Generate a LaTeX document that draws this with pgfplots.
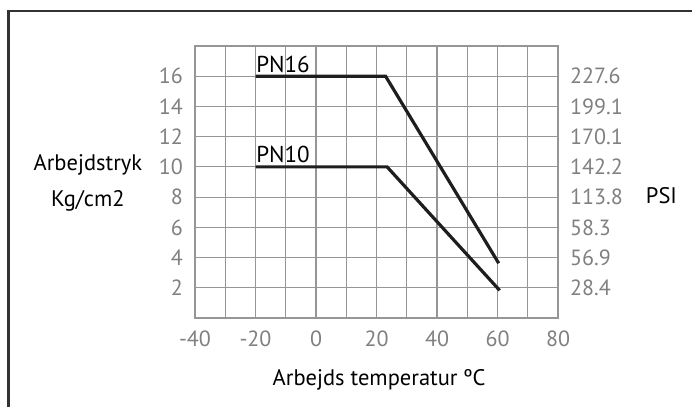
\documentclass[border=0pt]{standalone}
\usepackage{fontspec}
\setmainfont{PT Sans}
\usepackage{pgfplots}
\pgfplotsset{compat=1.18}
\definecolor{gridgray}{RGB}{150,150,150}
\definecolor{ticktext}{RGB}{128,128,128}
\definecolor{framecol}{RGB}{50,50,50}
\definecolor{linecol}{RGB}{30,30,30}
\pgfplotstableread{
x y
-20 16
23 16
60.4 3.62
}\pnsixteen
\pgfplotstableread{
x y
-20 10
23.5 10
60.7 1.83
}\pnten
\begin{document}
\begin{tikzpicture}
\path[use as bounding box] (0pt,0pt) rectangle (692pt,407pt);
\draw[framecol, line width=2.5pt] (8.3pt,0pt) -- (8.3pt,396pt) -- (692pt,396pt);
\begin{axis}[
  at={(195pt,89pt)}, anchor=south west, scale only axis,
  width=363pt, height=272pt,
  xmin=-40, xmax=80, ymin=0, ymax=18,
  xtick={-40,-30,...,80}, xticklabels={-40,,-20,,0,,20,,40,,60,,80},
  ytick={0,2,...,18}, yticklabels={,2,4,6,8,10,12,14,16,},
  grid=major, major grid style={gridgray, line width=1.2pt},
  axis line style={gridgray, line width=1.2pt},
  major tick length=0pt,
  tick label style={font=\fontsize{22}{26}\selectfont, text=ticktext, inner sep=0pt},
  xticklabel shift=13pt, yticklabel shift=12pt,
  label style={font=\fontsize{22.5}{27}\selectfont},
  xlabel={Arbejds temperatur ºC},
  xlabel style={at={(axis description cs:0.507,-0.228)}, anchor=center},
  ylabel={Arbejdstryk\\[9pt]Kg/cm2},
  ylabel style={at={(axis description cs:-0.295,0.496)}, anchor=center, rotate=-90, align=center},
  clip=false,
]
\addplot[linecol, line width=3.2pt] table[x=x,y=y] {\pnsixteen};
\addplot[linecol, line width=3.2pt] table[x=x,y=y] {\pnten};
\node[anchor=base west, inner sep=0pt, font=\fontsize{23}{27}\selectfont] at (axis cs:-19.8,16.27) {PN16};
\node[anchor=base west, inner sep=0pt, font=\fontsize{23}{27}\selectfont] at (axis cs:-19.8,10.27) {PN10};
\end{axis}
\begin{axis}[
  at={(195pt,89pt)}, anchor=south west, scale only axis,
  width=363pt, height=272pt,
  xmin=-40, xmax=80, ymin=0, ymax=18,
  hide x axis,
  axis y line*=right,
  axis line style={gridgray, line width=1.2pt},
  ytick={2,4,...,16}, yticklabels={28.4,56.9,58.3,113.8,142.2,170.1,199.1,227.6},
  major tick length=0pt,
  tick label style={font=\fontsize{22}{26}\selectfont, text=ticktext, inner sep=0pt},
  yticklabel shift=12pt,
  ylabel={PSI},
  label style={font=\fontsize{22.5}{27}\selectfont},
  ylabel style={at={(axis description cs:1.285,0.449)}, anchor=center, rotate=-90},
]
\end{axis}
\end{tikzpicture}
\end{document}
